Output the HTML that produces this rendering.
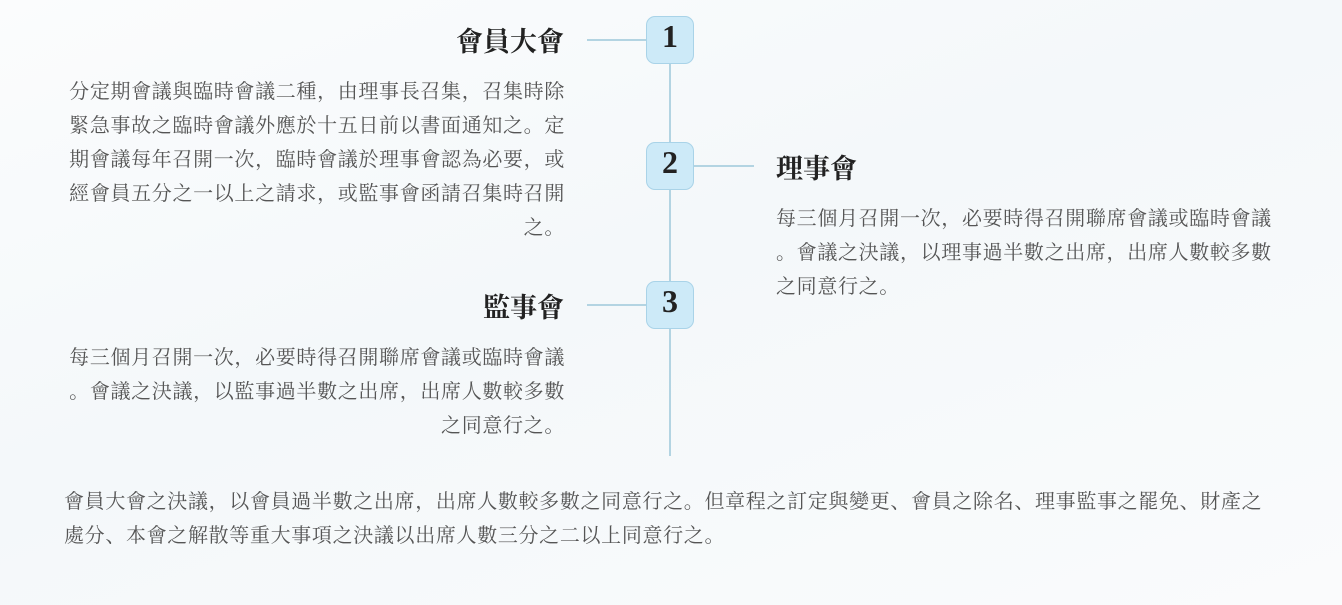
<!DOCTYPE html>
<html><head><meta charset="utf-8"><style>
body{margin:0;width:1342px;height:605px;position:relative;overflow:hidden;background:linear-gradient(160deg,#fbfcfd 0%,#f4f8fa 45%,#fafbfc 100%);font-family:"Liberation Serif","Noto Serif CJK SC","Noto Sans CJK TC",serif;color:#555}
.a{position:absolute}
.t{font-size:27px;font-weight:bold;color:#222;line-height:30px}
.p{font-size:20px;letter-spacing:0.66px;line-height:34px;white-space:nowrap}
.box{position:absolute;width:46px;height:46px;background:#cdeaf8;border:1px solid #a9d3e8;border-radius:9px;text-align:center;font-size:32px;font-weight:bold;color:#222;line-height:38px}
.l{position:absolute;background:#b3d4e2}
</style></head><body>
<div class="l" style="left:669px;top:63px;width:2px;height:393px"></div>
<div class="l" style="left:587px;top:39px;width:60px;height:2px"></div>
<div class="l" style="left:694px;top:165px;width:60px;height:2px"></div>
<div class="l" style="left:587px;top:304px;width:60px;height:2px"></div>
<div class="box" style="left:646px;top:16px">1</div>
<div class="box" style="left:646px;top:142px">2</div>
<div class="box" style="left:646px;top:281px">3</div>

<div class="a t" style="right:778px;top:27px">會員大會</div>
<div class="a p" style="right:777px;top:75px;text-align:right">分定期會議與臨時會議二種，由理事長召集，召集時除<br>緊急事故之臨時會議外應於十五日前以書面通知之。定<br>期會議每年召開一次，臨時會議於理事會認為必要，或<br>經會員五分之一以上之請求，或監事會函請召集時召開<br>之。</div>

<div class="a t" style="left:776px;top:154px">理事會</div>
<div class="a p" style="left:776px;top:202px">每三個月召開一次，必要時得召開聯席會議或臨時會議<br>。會議之決議，以理事過半數之出席，出席人數較多數<br>之同意行之。</div>

<div class="a t" style="right:778px;top:293px">監事會</div>
<div class="a p" style="right:777px;top:341px;text-align:right">每三個月召開一次，必要時得召開聯席會議或臨時會議<br>。會議之決議，以監事過半數之出席，出席人數較多數<br>之同意行之。</div>

<div class="a p" style="left:64px;top:485px">會員大會之決議，以會員過半數之出席，出席人數較多數之同意行之。但章程之訂定與變更、會員之除名、理事監事之罷免、財產之<br>處分、本會之解散等重大事項之決議以出席人數三分之二以上同意行之。</div>
</body></html>
